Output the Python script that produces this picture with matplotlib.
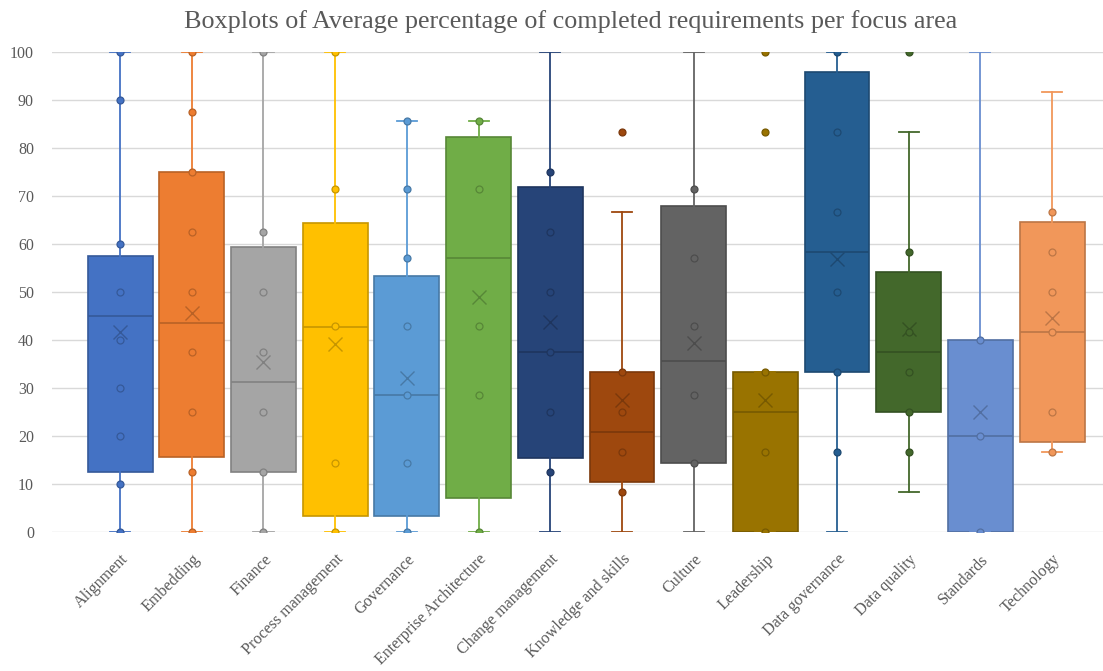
import matplotlib
matplotlib.use("Agg")
import matplotlib.pyplot as plt
import matplotlib.colors as mcolors
from matplotlib.transforms import ScaledTranslation

categories = ["Alignment", "Embedding", "Finance", "Process management", "Governance",
              "Enterprise Architecture", "Change management", "Knowledge and skills",
              "Culture", "Leadership", "Data governance", "Data quality", "Standards",
              "Technology"]
q1 =      [12.5, 15.6, 12.5, 3.3, 3.3, 7.0, 15.5, 10.4, 14.3, 0.0, 33.3, 25.0, 0.0, 18.7]
medians = [44.9, 43.6, 31.2, 42.8, 28.6, 57.0, 37.4, 20.8, 35.6, 25.0, 58.4, 37.5, 20.0, 41.6]
q3 =      [57.6, 75.0, 59.3, 64.3, 53.4, 82.2, 71.9, 33.3, 68.0, 33.3, 95.9, 54.2, 40.0, 64.5]
whis_lo = [0.0, 0.0, 0.0, 0.0, 0.0, 0.0, 0.0, 0.0, 0.0, 0.0, 0.0, 8.3, 0.0, 16.7]
whis_hi = [100.0, 100.0, 100.0, 100.0, 85.7, 85.7, 100.0, 66.7, 100.0, 33.3, 100.0, 83.3, 100.0, 91.7]
means =   [41.6, 45.7, 35.4, 39.2, 32.0, 48.9, 43.7, 27.6, 39.3, 27.6, 56.9, 42.3, 25.0, 44.5]
points = [
    [0, 10, 20, 30, 40, 50, 60, 90, 100],
    [0, 12.5, 25, 37.5, 50, 62.5, 75, 87.5, 100],
    [0, 12.5, 25, 37.5, 50, 62.5, 100],
    [0, 14.3, 42.9, 71.4, 100],
    [0, 14.3, 28.6, 42.9, 57.1, 71.4, 85.7],
    [0, 28.6, 42.9, 71.4, 85.7],
    [12.5, 25, 37.5, 50, 62.5, 75],
    [8.3, 16.7, 25, 33.3, 83.3],
    [14.3, 28.6, 42.9, 57.1, 71.4],
    [0, 16.7, 33.3, 83.3, 100],
    [16.7, 33.3, 50, 66.7, 83.3, 100],
    [16.7, 25, 33.3, 41.7, 58.3, 100],
    [0, 20, 40],
    [16.7, 25, 41.7, 50, 58.3, 66.7],
]
colors = ["#4472C4", "#ED7D31", "#A5A5A5", "#FFC000", "#5B9BD5", "#70AD47", "#264478",
          "#9E480E", "#636363", "#997300", "#255E91", "#43682B", "#698ED0", "#F1975A"]
title = "Boxplots of Average percentage of completed requirements per focus area"
yticks = list(range(0, 101, 10))


def darker(c, f=0.78):
    r, g, b = mcolors.to_rgb(c)
    return (r * f, g * f, b * f)


serif = ["Liberation Serif", "DejaVu Serif"]
fig = plt.figure(figsize=(11.03, 6.71), dpi=100)
ax = fig.add_axes([52 / 1103, 139 / 671, 1 - 52 / 1103, (532 - 52) / 671])

for i, cat in enumerate(categories):
    c = colors[i]
    dc = darker(c)
    st = dict(label=cat, q1=q1[i], med=medians[i], q3=q3[i], whislo=whis_lo[i],
              whishi=whis_hi[i], mean=means[i], fliers=[])
    ax.bxp([st], positions=[i], widths=0.905, capwidths=0.28, patch_artist=True,
           showmeans=True, showfliers=False,
           boxprops=dict(facecolor=c, edgecolor=dc, linewidth=1.2),
           medianprops=dict(color=dc, linewidth=1.2),
           whiskerprops=dict(color=c, linewidth=1.3),
           capprops=dict(color=c, linewidth=1.3),
           meanprops=dict(marker="x", markeredgecolor=dc, markersize=10,
                          markeredgewidth=1.0, linestyle="none"),
           zorder=2)
    ax.plot([i] * len(points[i]), points[i], "o", markersize=5, markerfacecolor=c,
            markeredgecolor=dc, markeredgewidth=0.9, linestyle="none", zorder=3)

ax.set_xlim(-0.95, 13.71)
ax.set_ylim(0, 100)
ax.set_yticks(yticks)
ax.set_yticklabels([str(v) for v in yticks], fontfamily=serif, fontsize=11.5, color="#595959")
ax.set_xticks(range(len(categories)))
ax.set_xticklabels(categories, rotation=45, ha="right", va="top", rotation_mode="anchor",
                   fontfamily=serif, fontsize=11.6, color="#595959")
shift = ScaledTranslation(0.13, 0, fig.dpi_scale_trans)
for lab in ax.get_xticklabels():
    lab.set_transform(lab.get_transform() + shift)
ax.tick_params(axis="both", length=0)
ax.tick_params(axis="x", pad=14)
ax.tick_params(axis="y", pad=13)
ax.grid(axis="y", color="#D9D9D9", linewidth=1.0, zorder=0)
ax.set_axisbelow(True)
for s in ax.spines.values():
    s.set_visible(False)

fig.text(0.517, 0.968, title, ha="center", va="center", fontfamily=serif,
         fontsize=18.8, color="#595959")

fig.savefig("out.png", dpi=100)
